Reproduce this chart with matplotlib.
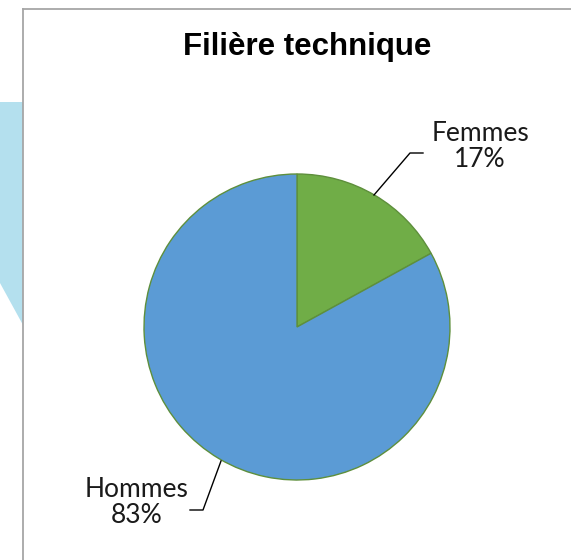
import matplotlib.pyplot as plt
from matplotlib.patches import Polygon

labels = ['Femmes', 'Hommes']
values = [17, 83]
colors = ['#70AD47', '#5B9BD5']
title = 'Filière technique'

W, H = 571, 560
fig = plt.figure(figsize=(W / 100, H / 100), dpi=100)
ax = fig.add_axes([0, 0, 1, 1])

# pixel coords, y measured from the top
def py(y):
    return H - y

# light blue decoration behind the chart box
ax.add_patch(Polygon([(0, py(102)), (23, py(102)), (23, py(325)), (0, py(283))],
                     closed=True, facecolor='#b4e0ee', edgecolor='none', zorder=0))

# chart frame (only top and left edges visible)
ax.plot([23, W], [py(9), py(9)], color='#a6a6a6', lw=1.3, zorder=1)
ax.plot([23, 23], [py(9), 0], color='#a6a6a6', lw=1.3, zorder=1)
ax.add_patch(Polygon([(24, 0), (24, py(10)), (W, py(10)), (W, 0)], closed=True,
                     facecolor='white', edgecolor='none', zorder=0.5))

cx, cy, r = 297, py(327), 153
ax.pie(values, colors=colors, startangle=90, counterclock=False,
       center=(cx, cy), radius=r,
       wedgeprops=dict(edgecolor='#5e8f3c', linewidth=1))

ax.set_xlim(0, W)
ax.set_ylim(0, H)
ax.set_aspect('auto')
ax.axis('off')

ax.text(307, py(55), title, ha='center', va='baseline',
        fontsize=22.5, fontweight='bold', family='Liberation Sans')

lab_font = dict(fontsize=19, family='Lato', ha='center', va='baseline', color='#1a1a1a')
ax.text(480, py(141), labels[0], **lab_font)
ax.text(480, py(167), f'{values[0]}%', **lab_font)
ax.text(137, py(497), labels[1], **lab_font)
ax.text(137, py(523), f'{values[1]}%', **lab_font)

ax.plot([374, 410, 423], [py(195), py(153), py(153)], color='black', lw=1)
ax.plot([221, 203, 190], [py(461), py(510), py(510)], color='black', lw=1)

fig.savefig('out.png', dpi=100)
